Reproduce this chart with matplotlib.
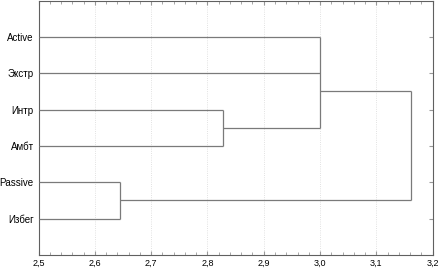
import matplotlib
matplotlib.use('Agg')
import matplotlib.pyplot as plt
from matplotlib.ticker import MultipleLocator

plt.rcParams['font.family'] = ['Liberation Sans', 'DejaVu Sans']

# leaves, top to bottom
labels = ['Active', 'Экстр', 'Интр', 'Амбт', 'Passive', 'Избег']
# merges: node ids 0..5 are leaves, new nodes get 6, 7, ...
merge_children = [[2, 3], [4, 5], [0, 1, 6], [8, 7]]
merge_height = [2.828, 2.645, 3.0, 3.161]
x_ticks = [2.5, 2.6, 2.7, 2.8, 2.9, 3.0, 3.1, 3.2]
x_tick_labels = ['2,5', '2,6', '2,7', '2,8', '2,9', '3,0', '3,1', '3,2']

line_col = '#7a7a7a'
xmin = x_ticks[0]

fig = plt.figure(figsize=(4.38, 2.70), dpi=100)
ax = fig.add_axes([0.0884, 0.0556, 0.8991, 0.942])

pos = {i: i + 1 for i in range(len(labels))}
height = {i: xmin for i in range(len(labels))}
leaves = {i: [i + 1] for i in range(len(labels))}

n = len(labels)
for k, (kids, h) in enumerate(zip(merge_children, merge_height)):
    node = n + k
    for c in kids:
        ax.plot([height[c], h], [pos[c], pos[c]], color=line_col, lw=0.9,
                solid_capstyle='butt', zorder=3)
    ys = [pos[c] for c in kids]
    ax.plot([h, h], [min(ys), max(ys)], color=line_col, lw=0.9,
            solid_capstyle='butt', zorder=3)
    leaves[node] = sum((leaves[c] for c in kids), [])
    pos[node] = sum(leaves[node]) / len(leaves[node])
    height[node] = h

ax.set_xlim(2.5, 3.2)
ax.set_ylim(n + 1, 0)
ax.set_xticks(x_ticks)
ax.set_xticklabels(x_tick_labels)
ax.xaxis.set_minor_locator(MultipleLocator(0.02))
ax.set_yticks(range(1, n + 1))
ax.set_yticklabels(labels)

ax.grid(axis='x', which='major', color='#d8d8d8', lw=0.6, ls=':')
ax.tick_params(axis='x', which='both', direction='in', top=True, labelsize=6.5,
               color='#999999', pad=2.5)
ax.tick_params(axis='x', which='major', length=3)
ax.tick_params(axis='x', which='minor', length=2)
ax.tick_params(axis='y', direction='in', left=False, right=True, length=3,
               color='#999999', labelsize=7, pad=3.5)
for s in ax.spines.values():
    s.set_color('#606060')
    s.set_linewidth(0.8)

plt.savefig('out.png', dpi=100)
